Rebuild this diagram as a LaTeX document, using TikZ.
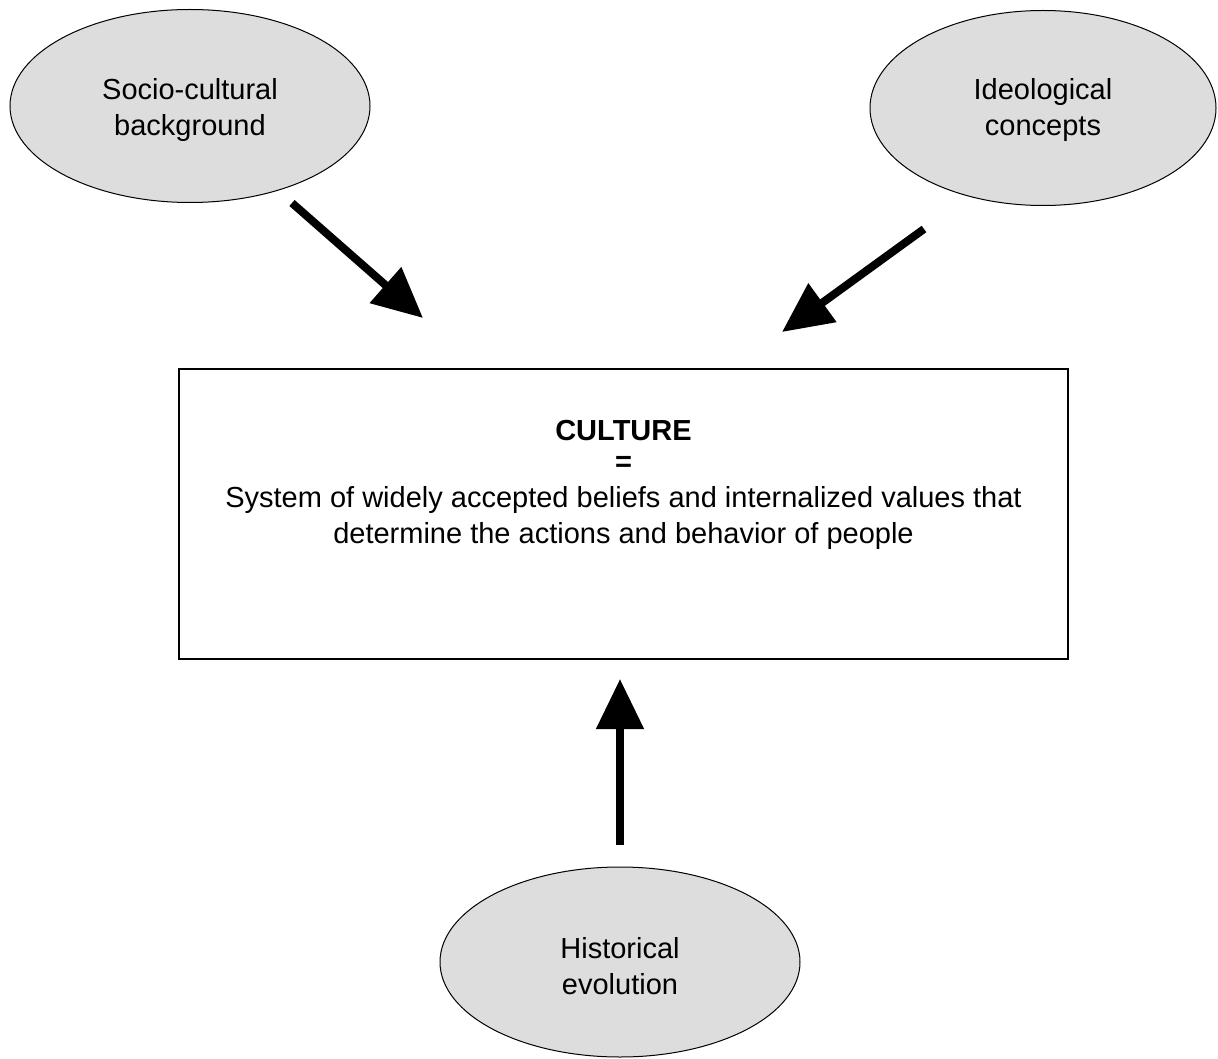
\documentclass[tikz,border=0pt]{standalone}
\usepackage{fontspec}
\setmainfont{Liberation Sans}
\usetikzlibrary{shapes.geometric,arrows.meta}
\definecolor{ovalgrey}{HTML}{DDDDDD}
\begin{document}
\begin{tikzpicture}[x=1pt,y=-1pt,
  oval/.style={ellipse, draw=black, line width=1pt, fill=ovalgrey,
    minimum width=#1, align=center, inner sep=0pt,
    font=\fontsize{29}{36}\selectfont},
  oval/.default=360pt,
  bigarrow/.style={line width=8pt, -{Triangle[length=50pt,width=46pt]}}]
  \useasboundingbox (0,0) rectangle (1218,1059);
  % factors feeding into culture
  \node[oval, minimum height=193pt] (socio) at (190,106) {\rule{0pt}{30pt}Socio-cultural\\background};
  \node[oval=346pt, minimum height=195pt] (ideo) at (1043,108) {\rule{0pt}{26pt}Ideological\\concepts};
  \node[oval, minimum height=190pt] (hist) at (620,962) {\rule{0pt}{30pt}Historical\\evolution};
  % central definition box
  \node[draw=black, line width=1.2pt, minimum width=889pt, minimum height=290pt,
        inner sep=0pt] (culture) at (623.5,514) {};
  \node[align=center, font=\fontsize{29}{36}\selectfont, anchor=north] (def)
    at (623.5,417) {\textbf{CULTURE}\\[-5pt]\textbf{=}\\System of widely accepted beliefs and internalized values that\\determine the actions and behavior of people};
  % arrow end points
  \coordinate (a1s) at (292,203);
  \coordinate (a1e) at (423,318);
  \coordinate (a2s) at (924,229);
  \coordinate (a2e) at (782,332);
  \coordinate (a3s) at (620,845);
  \coordinate (a3e) at (620,679);
  \draw[bigarrow] (a1s) -- (a1e);
  \draw[bigarrow] (a2s) -- (a2e);
  \draw[bigarrow] (a3s) -- (a3e);
\end{tikzpicture}
\end{document}
